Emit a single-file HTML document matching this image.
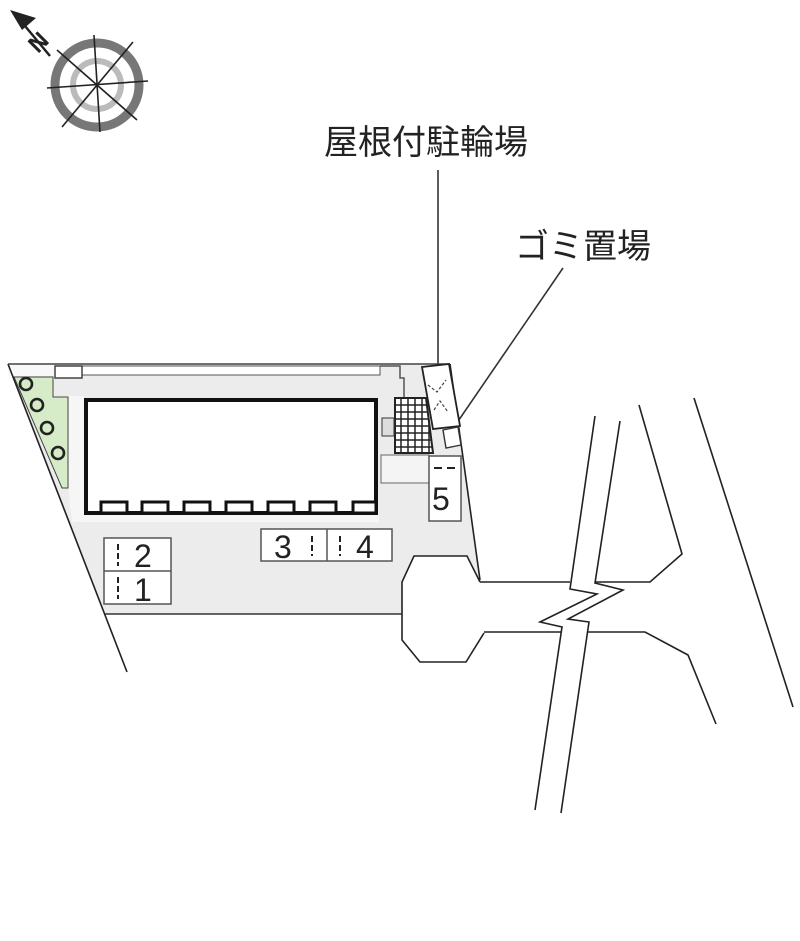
<!DOCTYPE html>
<html><head><meta charset="utf-8"><style>
html,body{margin:0;padding:0;background:#fff;}
svg{display:block;}
text{font-family:"Liberation Sans","Noto Sans CJK JP",sans-serif;fill:#222;}
</style></head><body>
<svg width="800" height="941" viewBox="0 0 800 941" xmlns="http://www.w3.org/2000/svg">
<!-- compass -->
<g stroke="#333" fill="none">
<circle cx="97" cy="85" r="42" stroke="#777" stroke-width="9"/>
<circle cx="97" cy="85" r="24" stroke="#bbb" stroke-width="6"/>
<g stroke="#222" stroke-width="1.6">
<line x1="57" y1="50" x2="137" y2="120"/>
<line x1="62" y1="127" x2="133" y2="42"/>
<line x1="47" y1="88" x2="148" y2="81"/>
<line x1="94" y1="35" x2="100" y2="132"/>
</g>
</g>
<polygon points="10,10 36,18 22,30" fill="#222"/>
<line x1="20" y1="20" x2="50" y2="56" stroke="#222" stroke-width="2.5"/>
<text x="28" y="50" font-size="24" font-weight="bold" transform="rotate(-45 38 40)">N</text>

<!-- labels -->
<text x="324" y="154" font-size="34">屋根付駐輪場</text>
<text x="515" y="258" font-size="34">ゴミ置場</text>
<line x1="438" y1="170" x2="438" y2="425" stroke="#333" stroke-width="1.6"/>
<line x1="563" y1="268" x2="452" y2="430" stroke="#333" stroke-width="1.6"/>

<!-- site gray -->
<polygon points="8,364 450,364 480,580 468,556 414,556 402,582 402,614 105,614" fill="#ececec"/>
<polygon points="52,396 84,396 84,514 379,514 379,522 72,522 68,488" fill="#f6f6f6"/>
<rect x="82" y="366" width="298" height="9" fill="#fff" stroke="#555" stroke-width="1"/>
<rect x="8" y="364" width="47" height="12" fill="#f8f8f8"/>
<rect x="55" y="366" width="27" height="12" fill="#fff" stroke="#444" stroke-width="1.5"/>
<!-- green strip -->
<polygon points="14,377 53,377 53,397 68,397 68,488 62,488" fill="#d6ecc8" stroke="#444" stroke-width="1"/>
<g fill="none" stroke="#222" stroke-width="2.6">
<circle cx="26" cy="384" r="6"/><circle cx="37" cy="405" r="6"/>
<circle cx="47" cy="428" r="6"/><circle cx="58" cy="453" r="6"/>
</g>
<!-- site outline -->
<line x1="8" y1="364" x2="127" y2="672" stroke="#222" stroke-width="1.6"/>
<line x1="8" y1="364" x2="450" y2="364" stroke="#444" stroke-width="1.4"/>
<line x1="450" y1="364" x2="480" y2="580" stroke="#222" stroke-width="1.6"/>
<line x1="105" y1="614" x2="402" y2="614" stroke="#333" stroke-width="1.4"/>
<!-- building -->
<rect x="86" y="400" width="290" height="113" fill="#fff" stroke="#111" stroke-width="4"/>
<g fill="#fff" stroke="#111" stroke-width="3">
<rect x="101" y="502" width="26" height="11"/><rect x="142" y="502" width="26" height="11"/>
<rect x="184" y="502" width="26" height="11"/><rect x="226" y="502" width="26" height="11"/>
<rect x="268" y="502" width="26" height="11"/><rect x="310" y="502" width="26" height="11"/>
<rect x="353" y="502" width="23" height="11"/>
</g>
<!-- right structures -->
<polyline points="380,366 400,366 400,378 404,378 404,398" fill="none" stroke="#555" stroke-width="1.5"/>
<rect x="381" y="455" width="48" height="28" fill="#f4f4f4" stroke="#666" stroke-width="1"/>
<polygon points="395,398 426,398 433,453 395,453" fill="#fff" stroke="#222" stroke-width="2"/>
<g stroke="#222" stroke-width="1.5">
<line x1="401" y1="398" x2="401" y2="453"/><line x1="408" y1="398" x2="408" y2="453"/>
<line x1="415" y1="398" x2="415" y2="453"/><line x1="422" y1="398" x2="422" y2="453"/>
<line x1="429" y1="420" x2="429" y2="453"/>
<line x1="395" y1="405" x2="428" y2="405"/><line x1="395" y1="412" x2="428" y2="412"/>
<line x1="395" y1="419" x2="429" y2="419"/><line x1="395" y1="426" x2="430" y2="426"/>
<line x1="395" y1="433" x2="431" y2="433"/><line x1="395" y1="440" x2="432" y2="440"/>
<line x1="395" y1="447" x2="432" y2="447"/>
</g>
<rect x="382" y="418" width="12" height="18" fill="#ddd" stroke="#333" stroke-width="1"/>
<polygon points="422,367 449,364 460,426 433,429" fill="#fff" stroke="#222" stroke-width="1.8"/>
<polyline points="428,385 437,392 446,380" fill="none" stroke="#444" stroke-width="1.2" stroke-dasharray="3,2"/>
<polyline points="434,410 440,401 448,412" fill="none" stroke="#444" stroke-width="1.2" stroke-dasharray="3,2"/>
<polygon points="443,430 458,427 461,445 446,448" fill="#fff" stroke="#333" stroke-width="1.4"/>
<!-- parking -->
<rect x="429" y="456" width="32" height="65" fill="#fff" stroke="#555" stroke-width="1.5"/>
<line x1="434" y1="468" x2="442" y2="468" stroke="#222" stroke-width="2"/>
<line x1="447" y1="468" x2="455" y2="468" stroke="#222" stroke-width="2"/>
<text x="432" y="510" font-size="32">5</text>
<rect x="261" y="529" width="131" height="32" fill="#fff" stroke="#555" stroke-width="1.5"/>
<line x1="327" y1="529" x2="327" y2="561" stroke="#555" stroke-width="1.5"/>
<text x="274" y="558" font-size="32">3</text>
<line x1="312" y1="536" x2="312" y2="556" stroke="#222" stroke-width="2" stroke-dasharray="6,3"/>
<line x1="340" y1="536" x2="340" y2="556" stroke="#222" stroke-width="2" stroke-dasharray="6,3"/>
<text x="356" y="558" font-size="32">4</text>
<rect x="104" y="538" width="67" height="66" fill="#fff" stroke="#555" stroke-width="1.5"/>
<line x1="104" y1="571" x2="171" y2="571" stroke="#555" stroke-width="1.5"/>
<line x1="118" y1="544" x2="118" y2="566" stroke="#222" stroke-width="2" stroke-dasharray="6,3"/>
<line x1="118" y1="577" x2="118" y2="599" stroke="#222" stroke-width="2" stroke-dasharray="6,3"/>
<text x="134" y="567" font-size="32">2</text>
<text x="134" y="601" font-size="32">1</text>
<!-- road -->
<g fill="none" stroke="#222" stroke-width="1.6">
<polyline points="480,582 467,556 414,556 402,582 402,640 420,662 466,662 484,633"/>
<line x1="480" y1="582" x2="570" y2="582"/>
<polyline points="595,582 650,582 682,554 639,405"/>
<line x1="694" y1="398" x2="793" y2="707"/>
<line x1="484" y1="632" x2="562" y2="632"/>
<polyline points="588,632 645,632 688,655 716,724"/>
<polyline points="595,416 570,589 597,594 540,622 562,627 535,810"/>
<polyline points="620,421 595,583 623,590 568,619 589,622 561,813"/>
</g>
</svg>
</body></html>
